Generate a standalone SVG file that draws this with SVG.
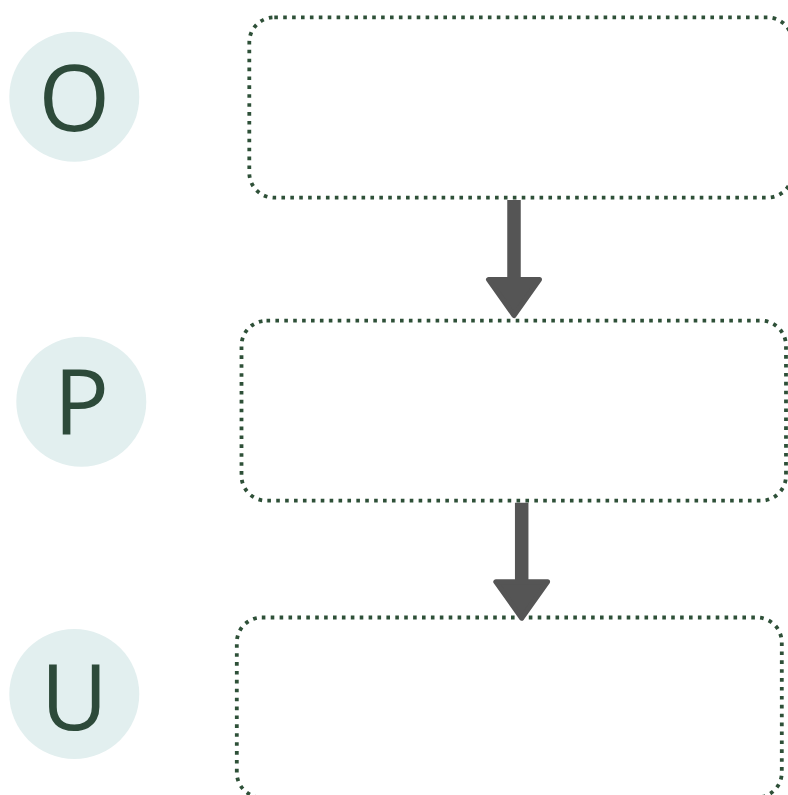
<svg xmlns="http://www.w3.org/2000/svg" width="788" height="795" viewBox="0 0 788 795">
  <style>
    .box { fill: #ffffff; stroke: #2e5038; stroke-width: 3.8; stroke-dasharray: 3.6 5.3; }
    .badge { fill: #e2efef; }
    .letter { font-family: "Open Sans", "Noto Sans", sans-serif; font-size: 92px; fill: #2d4a3a; text-anchor: middle; }
    .shaft { stroke: #555555; stroke-width: 13.5; fill: none; }
    .head { fill: #555555; stroke: #555555; stroke-width: 5; stroke-linejoin: round; }
  </style>
  <rect width="788" height="795" fill="#ffffff"/>

  <g id="badge-O">
    <circle class="badge" cx="74.3" cy="96.7" r="65"/>
    <text class="letter" x="74.3" y="131">O</text>
  </g>
  <g id="badge-P">
    <circle class="badge" cx="81.3" cy="401.7" r="65"/>
    <text class="letter" x="81.3" y="435">P</text>
  </g>
  <g id="badge-U">
    <circle class="badge" cx="74.3" cy="694" r="65"/>
    <text class="letter" x="74.3" y="730">U</text>
  </g>

  <g id="box-1">
    <rect class="box" x="249.3" y="17.3" width="543" height="180.4" rx="25" ry="25"/>
  </g>
  <g id="box-2">
    <rect class="box" x="241.5" y="320.7" width="544.5" height="180" rx="25" ry="25"/>
  </g>
  <g id="box-3">
    <rect class="box" x="236.8" y="617.5" width="545" height="180" rx="25" ry="25"/>
  </g>

  <g id="connectors">
    <line class="shaft" x1="514" y1="200" x2="514" y2="282"/>
    <polygon class="head" points="488.5,279.5 539.5,279.5 514,315.5"/>
    <line class="shaft" x1="521.7" y1="502.7" x2="521.7" y2="584"/>
    <polygon class="head" points="495.8,581.8 547.6,581.8 521.7,618.2"/>
  </g>
</svg>
